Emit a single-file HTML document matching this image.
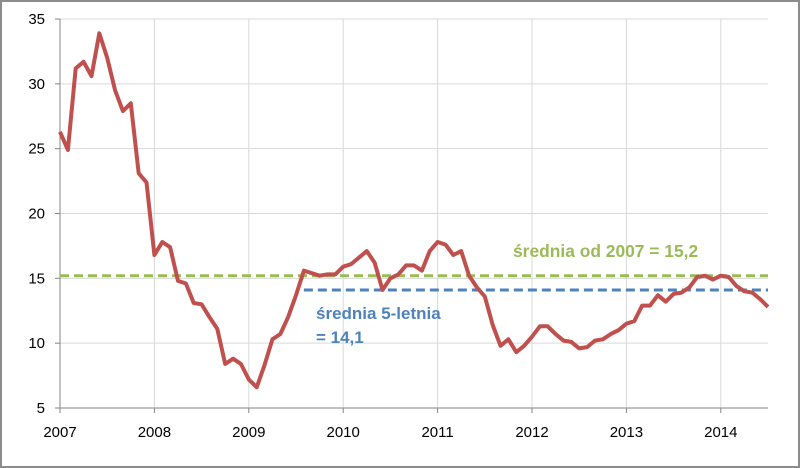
<!DOCTYPE html>
<html><head><meta charset="utf-8"><style>
html,body{margin:0;padding:0;background:#fff}
svg{display:block;font-family:"Liberation Sans",sans-serif}
</style></head><body>
<svg id="chart" width="800" height="468">
<rect x="1" y="1" width="798" height="466" fill="#fff" stroke="#8c8c8c" stroke-width="2"/>
<g id="grid"></g>
<g id="axes"></g>
<g id="series"></g>
<text x="513" y="257" font-size="17.4" font-weight="bold" fill="#9bbb59">średnia od 2007 = 15,2</text>
<text x="316" y="319" font-size="17" font-weight="bold" fill="#4f81bd">średnia 5-letnia</text>
<text x="316" y="343" font-size="17" font-weight="bold" fill="#4f81bd">= 14,1</text>
</svg>
<script>
const yTicks=[5,10,15,20,25,30,35];
const xYears=[2007,2008,2009,2010,2011,2012,2013,2014];
const values=[26.3,24.9,31.2,31.7,30.6,33.9,32,29.5,27.9,28.5,23.1,22.4,
16.8,17.8,17.4,14.8,14.6,13.1,13,12,11.1,8.4,8.8,8.4,
7.2,6.6,8.3,10.3,10.7,12,13.7,15.6,15.4,15.2,15.3,15.3,
15.9,16.1,16.6,17.1,16.2,14.1,15.0,15.3,16.0,16.0,15.6,17.1,
17.8,17.6,16.8,17.1,15.2,14.3,13.6,11.4,9.8,10.3,9.3,9.8,
10.5,11.3,11.3,10.7,10.2,10.1,9.6,9.7,10.2,10.3,10.7,11.0,
11.5,11.7,12.9,12.9,13.7,13.2,13.8,13.9,14.3,15.1,15.2,14.9,
15.2,15.1,14.4,14.0,13.9,13.4,12.8];
const avgAll=[15.2];
const avg5=[14.1];
const avg5StartMonth=[31];
const X0=60,X1=768,Y0=408,Y1=19,pxYear=94.4;
const xm=m=>X0+m*pxYear/12;
const yv=v=>Y0-(v-5)/30*(Y0-Y1);
const NS='http://www.w3.org/2000/svg';
function mk(tag,attrs,parent){const e=document.createElementNS(NS,tag);for(const k in attrs)e.setAttribute(k,attrs[k]);parent.appendChild(e);return e;}
const grid=document.getElementById('grid'),axes=document.getElementById('axes'),series=document.getElementById('series');
yTicks.forEach(t=>{
 const l=mk('line',{x1:X0,x2:X1,y1:yv(t),y2:yv(t),stroke:'#d9d9d9','stroke-width':1},grid);
 
 
 const tk=mk('line',{x1:X0-5,x2:X0,y1:yv(t),y2:yv(t),stroke:'#868686'},axes);
 
 
 const tx=mk('text',{x:45,y:yv(t)+5,'font-size':15,'text-anchor':'end',fill:'#000'},axes);
 tx.textContent=t;
 
 
});
xYears.forEach((yr,i)=>{
 const x=xm(i*12);
 const l=mk('line',{x1:x,x2:x,y1:Y1,y2:Y0,stroke:'#d9d9d9'},grid);
 
 
 const tk=mk('line',{x1:x,x2:x,y1:Y0,y2:Y0+5,stroke:'#868686'},axes);
 
 
 const tx=mk('text',{x:x,y:437,'font-size':15,'text-anchor':'middle',fill:'#000'},axes);
 tx.textContent=yr;
 
 
});
const ya=mk('line',{x1:X0,x2:X0,y1:Y1,y2:Y0,stroke:'#868686'},axes);


const xa=mk('line',{x1:X0,x2:X1,y1:Y0,y2:Y0,stroke:'#868686'},axes);


const g=mk('line',{x1:X0,x2:X1,y1:yv(avgAll[0]),y2:yv(avgAll[0]),stroke:'#9bbb59','stroke-width':3,'stroke-dasharray':'9 5'},series);


const b=mk('line',{x1:xm(avg5StartMonth[0]),x2:X1,y1:yv(avg5[0]),y2:yv(avg5[0]),stroke:'#4f81bd','stroke-width':3,'stroke-dasharray':'9 5'},series);


const p=mk('polyline',{points:values.map((v,i)=>xm(i).toFixed(1)+','+yv(v).toFixed(1)).join(' '),fill:'none',stroke:'#c0504d','stroke-width':4,'stroke-linejoin':'round'},series);


</script>
</body></html>
